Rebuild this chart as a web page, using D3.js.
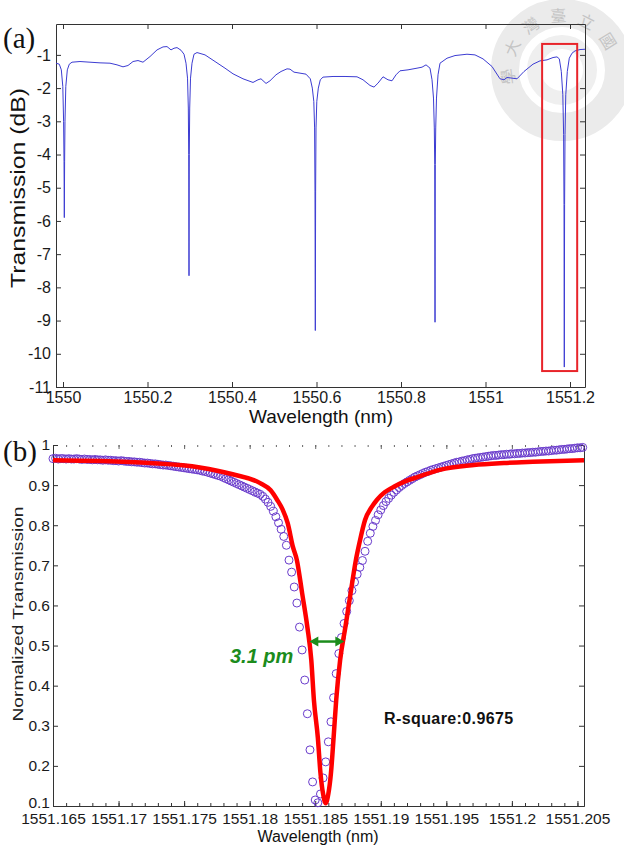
<!DOCTYPE html>
<html>
<head>
<meta charset="utf-8">
<script src="https://cdn.jsdelivr.net/npm/d3@7"></script>
<style>
  body { margin: 0; background: #fff; }
  svg { display: block; font-family: "Liberation Sans", Arial, sans-serif; }
</style>
</head>
<body>
<svg id="chart" width="624" height="848"></svg>
<script>
// ---- panel (a): transmission spectrum ----
const spectrumWavelength = [
  1549.9834, 1549.9912, 1549.9960, 1549.9995, 1550.0014, 1550.0024, 1550.0031, 1550.0038, 1550.0047, 1550.0066,
  1550.0102, 1550.0149, 1550.0213, 1550.0402, 1550.0639, 1550.0876, 1550.1112, 1550.1278, 1550.1420, 1550.1538,
  1550.1657, 1550.1775, 1550.1893, 1550.2059, 1550.2225, 1550.2367, 1550.2462, 1550.2556, 1550.2627, 1550.2698,
  1550.2793, 1550.2864, 1550.2911, 1550.2947, 1550.2966, 1550.2975, 1550.2982, 1550.2989, 1550.2999, 1550.3018,
  1550.3053, 1550.3100, 1550.3172, 1550.3361, 1550.3598, 1550.3834, 1550.4024, 1550.4260, 1550.4497, 1550.4615,
  1550.4686, 1550.4805, 1550.4899, 1550.5041, 1550.5160, 1550.5302, 1550.5373, 1550.5467, 1550.5609, 1550.5751,
  1550.5853, 1550.5901, 1550.5936, 1550.5955, 1550.5964, 1550.5972, 1550.5979, 1550.5988, 1550.6007, 1550.6043,
  1550.6090, 1550.6154, 1550.6391, 1550.6675, 1550.6959, 1550.7101, 1550.7266, 1550.7361, 1550.7456, 1550.7574,
  1550.7692, 1550.7787, 1550.7882, 1550.7976, 1550.8166, 1550.8379, 1550.8497, 1550.8592, 1550.8686, 1550.8734,
  1550.8769, 1550.8788, 1550.8798, 1550.8805, 1550.8812, 1550.8822, 1550.8840, 1550.8876, 1550.8923, 1550.9089,
  1550.9278, 1550.9562, 1550.9751, 1550.9941, 1551.0154, 1551.0343, 1551.0438, 1551.0509, 1551.0627, 1551.0746,
  1551.0911, 1551.1124, 1551.1290, 1551.1456, 1551.1598, 1551.1692, 1551.1747, 1551.1794, 1551.1830, 1551.1849,
  1551.1858, 1551.1865, 1551.1872, 1551.1882, 1551.1900, 1551.1936, 1551.1983, 1551.2047, 1551.2118, 1551.2237,
  1551.2355
];
const spectrumDb = [
  -1.25, -1.28, -1.45, -1.95, -3.0, -4.2, -5.9, -4.2, -3.0, -1.95,
  -1.45, -1.28, -1.22, -1.2, -1.22, -1.24, -1.25, -1.3, -1.36, -1.32,
  -1.2, -1.17, -1.22, -1.05, -0.85, -0.76, -0.75, -0.85, -0.8, -0.78,
  -0.86, -0.98, -1.25, -1.7, -2.6, -4.0, -7.65, -4.0, -2.6, -1.7,
  -1.25, -0.98, -0.93, -1.0, -1.2, -1.4, -1.57, -1.72, -1.83, -1.75,
  -1.72, -1.86, -1.78, -1.6, -1.5, -1.42, -1.43, -1.52, -1.55, -1.58,
  -1.72, -2.0, -2.4, -3.2, -5.1, -9.3, -5.1, -3.2, -2.4, -2.0,
  -1.75, -1.67, -1.65, -1.65, -1.66, -1.75, -1.92, -1.97, -1.85, -1.66,
  -1.75, -1.78, -1.6, -1.48, -1.45, -1.4, -1.37, -1.3, -1.4, -1.75,
  -2.3, -3.2, -4.3, -9.05, -4.3, -3.2, -2.3, -1.6, -1.25, -1.1,
  -1.02, -0.98, -1.0, -1.12, -1.35, -1.72, -1.75, -1.68, -1.7, -1.72,
  -1.5, -1.28, -1.18, -1.15, -1.08, -1.06, -1.12, -1.5, -2.2, -3.4,
  -5.5, -10.4, -5.5, -3.4, -2.2, -1.5, -1.1, -0.95, -0.88, -0.84,
  -0.83
];
const xTickLabelsA = ["1550", "1550.2", "1550.4", "1550.6", "1550.8", "1551", "1551.2"];
const yTickLabelsA = ["-1", "-2", "-3", "-4", "-5", "-6", "-7", "-8", "-9", "-10", "-11"];
const zoomBoxWavelength = [1551.134, 1551.217];
const zoomBoxDb = [-0.67, -10.52];

// ---- panel (b): zoom on the last resonance ----
const scanStart = 1551.165;
const scanStep = 0.0002;
const measuredNorm = [
  0.966, 0.967, 0.965, 0.966, 0.966, 0.965, 0.966, 0.965, 0.965, 0.966,
  0.965, 0.964, 0.965, 0.964, 0.964, 0.963, 0.964, 0.963, 0.963, 0.962,
  0.963, 0.962, 0.962, 0.961, 0.961, 0.960, 0.961, 0.960, 0.959, 0.959,
  0.958, 0.958, 0.957, 0.957, 0.956, 0.955, 0.955, 0.954, 0.953, 0.953,
  0.952, 0.951, 0.950, 0.950, 0.949, 0.948, 0.947, 0.946, 0.945, 0.944,
  0.943, 0.942, 0.941, 0.940, 0.939, 0.938, 0.937, 0.935, 0.934, 0.932,
  0.930, 0.928, 0.926, 0.924, 0.922, 0.919, 0.916, 0.913, 0.910, 0.907,
  0.904, 0.901, 0.898, 0.895, 0.892, 0.889, 0.886, 0.883, 0.880, 0.877,
  0.872, 0.865, 0.857, 0.847, 0.835, 0.821, 0.806, 0.790, 0.772, 0.750,
  0.713, 0.683, 0.646, 0.606, 0.546, 0.489, 0.414, 0.330, 0.240, 0.160,
  0.115, 0.108, 0.130, 0.170, 0.210, 0.260, 0.310, 0.370, 0.430, 0.480,
  0.520, 0.555, 0.585, 0.612, 0.637, 0.658, 0.678, 0.695, 0.712, 0.735,
  0.760, 0.780, 0.797, 0.812, 0.826, 0.838, 0.849, 0.859, 0.867, 0.875,
  0.882, 0.888, 0.894, 0.899, 0.904, 0.908, 0.912, 0.916, 0.920, 0.923,
  0.926, 0.929, 0.932, 0.934, 0.937, 0.939, 0.941, 0.943, 0.945, 0.947,
  0.949, 0.951, 0.953, 0.955, 0.957, 0.958, 0.960, 0.961, 0.963, 0.964,
  0.966, 0.967, 0.968, 0.969, 0.970, 0.971, 0.972, 0.973, 0.974, 0.974,
  0.975, 0.976, 0.976, 0.977, 0.977, 0.978, 0.978, 0.979, 0.979, 0.980,
  0.980, 0.981, 0.981, 0.982, 0.982, 0.983, 0.984, 0.984, 0.985, 0.985,
  0.986, 0.987, 0.987, 0.988, 0.989, 0.989, 0.990, 0.991, 0.991, 0.992,
  0.993, 0.993, 0.994
];
const fitWavelength = [
  1551.1650, 1551.1686, 1551.1724, 1551.1762, 1551.1787, 1551.1808, 1551.1816, 1551.1821, 1551.1825, 1551.1829,
  1551.1833, 1551.1836, 1551.1840, 1551.1844, 1551.1847, 1551.1849, 1551.1852, 1551.1854, 1551.1856, 1551.1858,
  1551.1860, 1551.1862, 1551.1864, 1551.1866, 1551.1869, 1551.1873, 1551.1877, 1551.1881, 1551.1884, 1551.1888,
  1551.1893, 1551.1897, 1551.1903, 1551.1910, 1551.1919, 1551.1928, 1551.1945, 1551.1971, 1551.1994, 1551.2016,
  1551.2055
];
const fitNorm = [
  0.962, 0.960, 0.955, 0.944, 0.927, 0.905, 0.887, 0.863, 0.840, 0.805,
  0.746, 0.713, 0.631, 0.546, 0.464, 0.364, 0.270, 0.182, 0.130, 0.107,
  0.130, 0.182, 0.270, 0.364, 0.464, 0.546, 0.631, 0.713, 0.760, 0.813,
  0.845, 0.863, 0.882, 0.896, 0.910, 0.920, 0.938, 0.950, 0.955, 0.958,
  0.962
];
const xTickLabelsB = ["1551.165", "1551.17", "1551.175", "1551.18", "1551.185", "1551.19", "1551.195", "1551.2", "1551.205"];
const yTickLabelsB = ["0.1", "0.2", "0.3", "0.4", "0.5", "0.6", "0.7", "0.8", "0.9", "1"];
const fwhmWavelength = [1551.18455, 1551.18722];
const fwhmLevel = 0.51;
const fwhmLabel = "3.1 pm";
const fitLabel = "R-square:0.9675";

const svg = d3.select("#chart");
const serif = "'Liberation Serif', 'Times New Roman', serif";

// faint university seal in the corner (scanned watermark)
const seal = svg.append("g").attr("transform", "translate(562,70)");
seal.append("circle").attr("r", 57).attr("fill", "none")
  .attr("stroke", "#ebebeb").attr("stroke-width", 28);
seal.append("circle").attr("r", 28).attr("fill", "none")
  .attr("stroke", "#efefef").attr("stroke-width", 14);
const sealChars = ["國", "立", "臺", "灣", "大", "學"];
sealChars.forEach((c, i) => {
  const deg = 32 + i * 31;
  const a = deg * Math.PI / 180;
  const cx = 54 * Math.cos(a), cy = -54 * Math.sin(a);
  seal.append("text")
    .attr("x", cx).attr("y", cy)
    .attr("text-anchor", "middle").attr("dy", "0.35em")
    .attr("transform", `rotate(${90 - deg},${cx},${cy})`)
    .style("font-family", "'Noto Sans CJK TC', sans-serif").attr("font-size", 16)
    .attr("fill", "#c4c4c4").text(c);
});

function styleAxis(g, size) {
  g.attr("font-size", size)
    .attr("font-family", "'Liberation Sans', Arial, sans-serif")
    .attr("color", "#333");
  g.selectAll("text").attr("fill", "#1a1a1a");
}

// ---------------- panel (a) ----------------
const xA = d3.scaleLinear().domain([1549.9834, 1551.2355]).range([56, 585]);
const yA = d3.scaleLinear().domain([-11, -0.07]).range([387, 24]);
const xTicksA = xTickLabelsA.map(Number);
const yTicksA = yTickLabelsA.map(Number);

svg.append("g").attr("transform", "translate(0,387)")
  .call(d3.axisBottom(xA).tickValues(xTicksA).tickFormat((d, i) => xTickLabelsA[i])
    .tickSizeInner(-5).tickSizeOuter(0).tickPadding(5))
  .call(g => styleAxis(g, 16));
svg.append("g").attr("transform", "translate(0,24)")
  .call(d3.axisTop(xA).tickValues(xTicksA).tickFormat("").tickSizeInner(-5).tickSizeOuter(0))
  .call(g => styleAxis(g, 16));
svg.append("g").attr("transform", "translate(56,0)")
  .call(d3.axisLeft(yA).tickValues(yTicksA).tickFormat((d, i) => yTickLabelsA[i])
    .tickSizeInner(-5).tickSizeOuter(0).tickPadding(5))
  .call(g => styleAxis(g, 16));
svg.append("g").attr("transform", "translate(585,0)")
  .call(d3.axisRight(yA).tickValues(yTicksA).tickFormat("").tickSizeInner(-5).tickSizeOuter(0))
  .call(g => styleAxis(g, 16));

const spectrum = spectrumWavelength.map((w, i) => [w, spectrumDb[i]]);
svg.append("path").datum(spectrum)
  .attr("fill", "none").attr("stroke", "#3c3cd2").attr("stroke-width", 1)
  .attr("d", d3.line().x(d => xA(d[0])).y(d => yA(d[1])));

svg.append("rect")
  .attr("x", xA(zoomBoxWavelength[0])).attr("y", yA(zoomBoxDb[0]))
  .attr("width", xA(zoomBoxWavelength[1]) - xA(zoomBoxWavelength[0]))
  .attr("height", yA(zoomBoxDb[1]) - yA(zoomBoxDb[0]))
  .attr("fill", "none").attr("stroke", "#e8242a").attr("stroke-width", 2);

svg.append("text").attr("x", 3).attr("y", 48)
  .style("font-family", serif).attr("font-size", 29)
  .attr("fill", "#111").text("(a)");
svg.append("text").attr("transform", "translate(25,188) rotate(-90)")
  .attr("text-anchor", "middle").attr("font-size", 20).attr("fill", "#111")
  .attr("textLength", 200).attr("lengthAdjust", "spacingAndGlyphs")
  .text("Transmission (dB)");
svg.append("text").attr("x", 321).attr("y", 423)
  .attr("text-anchor", "middle").attr("font-size", 19).attr("fill", "#111")
  .text("Wavelength (nm)");

// ---------------- panel (b) ----------------
const xB = d3.scaleLinear().domain([1551.165, 1551.2055]).range([53, 584]);
const yB = d3.scaleLinear().domain([0.1, 1]).range([806, 445]);
const xTicksB = xTickLabelsB.map(Number);
const yTicksB = yTickLabelsB.map(Number);
const minorTicksB = d3.range(0, 41).map(i => +(1551.165 + i * 0.001).toFixed(3));

// minor ticks along bottom and top edges
svg.append("g").attr("transform", "translate(0,806)")
  .call(d3.axisBottom(xB).tickValues(minorTicksB).tickFormat("").tickSizeInner(-3).tickSizeOuter(0))
  .call(g => styleAxis(g, 15.5));
svg.append("g").attr("transform", "translate(0,806)")
  .call(d3.axisBottom(xB).tickValues(xTicksB).tickFormat((d, i) => xTickLabelsB[i])
    .tickSizeInner(-5).tickSizeOuter(0).tickPadding(7))
  .call(g => styleAxis(g, 15.5));
svg.append("g").attr("transform", "translate(0,445)")
  .call(d3.axisTop(xB).tickValues(minorTicksB).tickFormat("").tickSizeInner(-2).tickSizeOuter(0))
  .call(g => { styleAxis(g, 15); g.select(".domain").remove(); g.attr("color", "#666"); });
svg.append("g").attr("transform", "translate(0,445)")
  .call(d3.axisTop(xB).tickValues(xTicksB).tickFormat("").tickSizeInner(-4).tickSizeOuter(0))
  .call(g => { styleAxis(g, 15); g.select(".domain").remove(); g.attr("color", "#666"); });
svg.append("g").attr("transform", "translate(53,0)")
  .call(d3.axisLeft(yB).tickValues(yTicksB).tickFormat((d, i) => yTickLabelsB[i])
    .tickSizeInner(-5).tickSizeOuter(0).tickPadding(3))
  .call(g => {
    styleAxis(g, 15.5);
    // lowest label sits in the corner; lift it clear of the x labels
    g.selectAll(".tick text").filter(d => d === 0.1).attr("dy", "0.1em");
  });
svg.append("g").attr("transform", "translate(584,0)")
  .call(d3.axisRight(yB).tickValues(yTicksB).tickFormat("").tickSizeInner(-5).tickSizeOuter(0))
  .call(g => styleAxis(g, 15));

const measured = measuredNorm.map((v, i) => [scanStart + i * scanStep, v]);
svg.append("g").selectAll("circle").data(measured).join("circle")
  .attr("cx", d => xB(d[0])).attr("cy", d => yB(d[1])).attr("r", 4)
  .attr("fill", "none").attr("stroke", "#6a3ccc").attr("stroke-width", 1);

const fit = fitWavelength.map((w, i) => [w, fitNorm[i]]);
svg.append("path").datum(fit)
  .attr("fill", "none").attr("stroke", "#ff0000").attr("stroke-width", 4.5)
  .attr("stroke-linejoin", "round")
  .attr("d", d3.line().curve(d3.curveMonotoneX).x(d => xB(d[0])).y(d => yB(d[1])));

// FWHM arrow
const ax1 = xB(fwhmWavelength[0]), ax2 = xB(fwhmWavelength[1]), ay = yB(fwhmLevel);
const green = "#1c8c1c";
svg.append("line").attr("x1", ax1 + 6).attr("x2", ax2 - 6).attr("y1", ay).attr("y2", ay)
  .attr("stroke", green).attr("stroke-width", 2.5);
svg.append("path").attr("fill", green)
  .attr("d", `M${ax1},${ay} l9,-5 l0,10 Z M${ax2},${ay} l-9,-5 l0,10 Z`);
svg.append("text").attr("x", 230).attr("y", 663)
  .attr("font-size", 20).attr("font-weight", "bold").attr("font-style", "italic")
  .attr("fill", green).text(fwhmLabel);
svg.append("text").attr("x", 384).attr("y", 724)
  .attr("font-size", 16).attr("font-weight", "bold").attr("fill", "#111")
  .attr("letter-spacing", 0.4).text(fitLabel);

svg.append("text").attr("x", 3).attr("y", 461)
  .style("font-family", serif).attr("font-size", 29)
  .attr("fill", "#111").text("(b)");
svg.append("text").attr("transform", "translate(23,614) rotate(-90)")
  .attr("text-anchor", "middle").attr("font-size", 15).attr("fill", "#222")
  .attr("textLength", 215).attr("lengthAdjust", "spacingAndGlyphs")
  .text("Normalized Transmission");
svg.append("text").attr("x", 318).attr("y", 842)
  .attr("text-anchor", "middle").attr("font-size", 16).attr("fill", "#111")
  .text("Wavelength (nm)");
</script>
</body>
</html>
